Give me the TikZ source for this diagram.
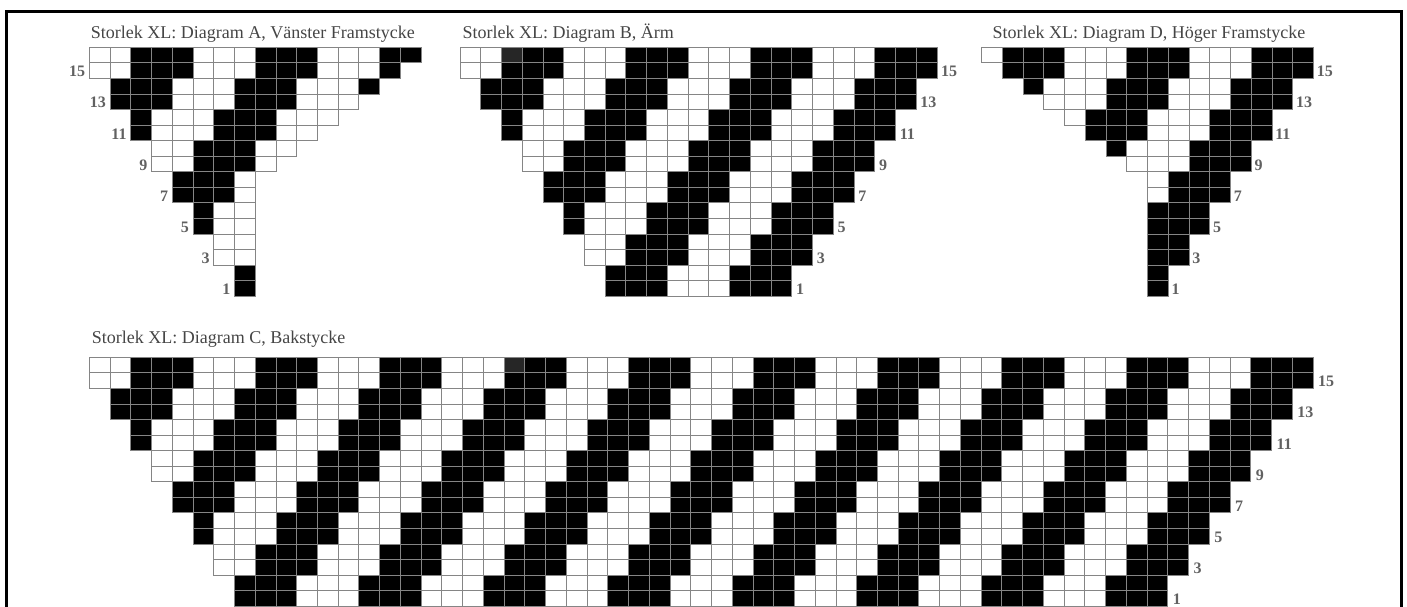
\documentclass[tikz,border=0pt]{standalone}
\usepackage{fontspec}
\setmainfont{Liberation Serif}
\definecolor{gridgray}{HTML}{858585}
\definecolor{textgray}{HTML}{454545}

\begin{document}
\begin{tikzpicture}[x=1pt, y=-1pt,
    cell/.style={draw=gridgray, line width=0.9pt},
    charttitle/.style={anchor=base west, inner sep=0pt, text=textgray,
        font=\fontsize{18}{20}\selectfont},
    rowno/.style={inner sep=0pt, text=textgray!85,
        font=\bfseries\fontsize{16}{18}\selectfont}]
    \path[use as bounding box, clip] (0,0) rectangle (1407,606);
    % cell width and height, in px
    \def\cw{20.74}
    \def\ch{15.56}

    % Outer frame; its lower edge lies below the page.
    \draw[line width=2.6pt] (6.7,11.3) rectangle (1401.5,640);

    % Diagram A: left edge steps every second row, right edge every row.
    \def\ox{89.3} \def\oy{47.3}
    \foreach \r in {1,...,16} {
        \pgfmathtruncatemacro{\k}{ceil(\r/2)}
        \pgfmathtruncatemacro{\cs}{8-\k}
        \pgfmathtruncatemacro{\ce}{max(\r-1,7)}
        \foreach \c in {\cs,...,\ce} {
            \pgfmathtruncatemacro{\b}{mod(\c-\k+60,6)<3}
            \ifnum\b=1 \def\fc{black}\else\def\fc{white}\fi
            \filldraw[cell, fill=\fc] (\ox+\c*\cw, \oy+16*\ch-\r*\ch) rectangle ++(\cw,\ch);
        }
    }
    \foreach \r in {1,3,...,15} {
        \pgfmathtruncatemacro{\cs}{8-ceil(\r/2)}
        \node[rowno, anchor=east] (numA\r) at (\ox+\cs*\cw-4, \oy+16.5*\ch-\r*\ch+1) {\r};
    }
    \node[charttitle] (titleA) at (90.7,38.3) {Storlek XL: Diagram A, Vänster Framstycke};

    % Diagram B: symmetric, both edges step every second row.
    \def\ox{460} \def\oy{47.3}
    \foreach \r in {1,...,16} {
        \pgfmathtruncatemacro{\k}{ceil(\r/2)}
        \pgfmathtruncatemacro{\cs}{8-\k}
        \pgfmathtruncatemacro{\ce}{14+\k}
        \foreach \c in {\cs,...,\ce} {
            \pgfmathtruncatemacro{\b}{mod(\c-\k+60,6)<3}
            \ifnum\b=1 \def\fc{black}\else\def\fc{white}\fi
            \filldraw[cell, fill=\fc] (\ox+\c*\cw, \oy+16*\ch-\r*\ch) rectangle ++(\cw,\ch);
        }
    }
    \filldraw[cell, fill=black!85] (\ox+2*\cw, \oy) rectangle ++(\cw,\ch);
    \foreach \r in {1,3,...,15} {
        \pgfmathtruncatemacro{\ce}{15+ceil(\r/2)}
        \node[rowno, anchor=west] (numB\r) at (\ox+\ce*\cw+4, \oy+16.5*\ch-\r*\ch+1) {\r};
    }
    \node[charttitle] (titleB) at (462.3,38.3) {Storlek XL: Diagram B, Ärm};

    % Diagram D: mirror of A.
    \def\ox{981.7} \def\oy{47.3}
    \foreach \r in {1,...,16} {
        \pgfmathtruncatemacro{\k}{ceil(\r/2)}
        \pgfmathtruncatemacro{\cs}{min(16-\r,8)}
        \pgfmathtruncatemacro{\ce}{7+\k}
        \foreach \c in {\cs,...,\ce} {
            \pgfmathtruncatemacro{\b}{mod(\c-\k+61,6)<3}
            \ifnum\b=1 \def\fc{black}\else\def\fc{white}\fi
            \filldraw[cell, fill=\fc] (\ox+\c*\cw, \oy+16*\ch-\r*\ch) rectangle ++(\cw,\ch);
        }
    }
    \foreach \r in {1,3,...,15} {
        \pgfmathtruncatemacro{\ce}{8+ceil(\r/2)}
        \node[rowno, anchor=west] (numD\r) at (\ox+\ce*\cw+3, \oy+16.5*\ch-\r*\ch+1) {\r};
    }
    \node[charttitle] (titleD) at (992.3,38.3) {Storlek XL: Diagram D, Höger Framstycke};

    % Diagram C: the wide back piece.
    \def\ox{89.3} \def\oy{357.3}
    \foreach \r in {1,...,16} {
        \pgfmathtruncatemacro{\k}{ceil(\r/2)}
        \pgfmathtruncatemacro{\cs}{8-\k}
        \pgfmathtruncatemacro{\ce}{50+\k}
        \foreach \c in {\cs,...,\ce} {
            \pgfmathtruncatemacro{\b}{mod(\c-\k+60,6)<3}
            \ifnum\b=1 \def\fc{black}\else\def\fc{white}\fi
            \filldraw[cell, fill=\fc] (\ox+\c*\cw, \oy+16*\ch-\r*\ch) rectangle ++(\cw,\ch);
        }
    }
    \filldraw[cell, fill=black!85] (\ox+20*\cw, \oy) rectangle ++(\cw,\ch);
    \foreach \r in {1,3,...,15} {
        \pgfmathtruncatemacro{\ce}{51+ceil(\r/2)}
        \node[rowno, anchor=west] (numC\r) at (\ox+\ce*\cw+5, \oy+16.5*\ch-\r*\ch+1) {\r};
    }
    \node[charttitle] (titleC) at (91.7,343) {Storlek XL: Diagram C, Bakstycke};
\end{tikzpicture}
\end{document}
